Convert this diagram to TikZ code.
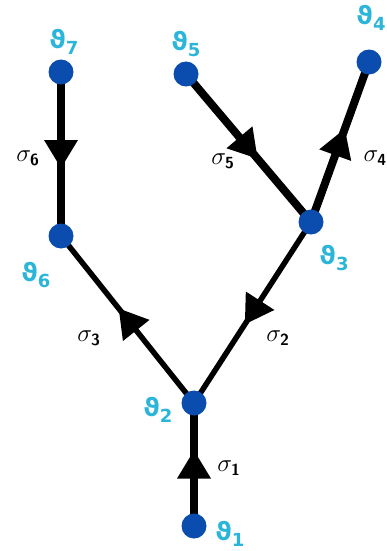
\documentclass[tikz,border=0pt]{standalone}
\usepackage{amsmath}
\usepackage{fontspec}
\newfontfamily\djv{DejaVu Sans}
\usetikzlibrary{decorations.markings,backgrounds}
\definecolor{vblue}{HTML}{0B4DAE}
\definecolor{vcyan}{HTML}{2BB5D8}
\tikzset{
  vert/.style={circle,fill=vblue,minimum size=25pt,inner sep=0pt},
  vlab/.style={text=vcyan,font=\djv\bfseries\fontsize{25}{28}\selectfont,inner sep=0pt},
  slab/.style={font=\fontsize{23}{26}\selectfont,inner sep=0pt},
  thick edge/.style={line width=8pt},
  thin edge/.style={line width=5.5pt},
  midarrow/.style={postaction={decorate},decoration={markings,
     mark=at position 0.5 with {\fill (14pt,0pt) -- (-14pt,17pt) -- (-14pt,-17pt) -- cycle;}}}
}
\newcommand{\myvl}[1]{ϑ\raisebox{-0.22em}{\fontsize{18}{18}\selectfont #1}}
\newcommand{\mysl}[1]{$\sigma_{\textsf{\textbf{#1}}}$}
\begin{document}
\begin{tikzpicture}[x=1pt,y=-1pt]
\useasboundingbox (0,0) rectangle (387,551);
\node[vert] (v7) at (61,72) {};
\node[vert] (v5) at (186,74) {};
\node[vert] (v4) at (369,62) {};
\node[vert] (v3) at (311,222) {};
\node[vert] (v6) at (61,236) {};
\node[vert] (v2) at (194,403) {};
\node[vert] (v1) at (194,526) {};
\begin{pgfonlayer}{background}
\draw[thick edge,midarrow] (v7.center) -- (v6.center);
\draw[thick edge,midarrow] (v5.center) -- (v3.center);
\draw[thick edge,midarrow] (v3.center) -- (v4.center);
\draw[thin edge,midarrow] (v2.center) -- (v6.center);
\draw[thin edge,midarrow] (v3.center) -- (v2.center);
\draw[thick edge,midarrow] (v1.center) -- (v2.center);
\end{pgfonlayer}
\node[vlab] (l7) at (64,42) {\myvl{7}};
\node[vlab] (l5) at (186,44) {\myvl{5}};
\node[vlab] (l4) at (371,18) {\myvl{4}};
\node[vlab] (l3) at (334,258) {\myvl{3}};
\node[vlab] (l6) at (36,275) {\myvl{6}};
\node[vlab] (l2) at (158,410) {\myvl{2}};
\node[vlab] (l1) at (230,534) {\myvl{1}};
\node[slab] (s6) at (28,158) {\mysl{6}};
\node[slab] (s5) at (223,161) {\mysl{5}};
\node[slab,anchor=east] (s4) at (387,158) {\mysl{4}};
\node[slab] (s3) at (89,338) {\mysl{3}};
\node[slab] (s2) at (278,338) {\mysl{2}};
\node[slab] (s1) at (229,468) {\mysl{1}};
\end{tikzpicture}
\end{document}
